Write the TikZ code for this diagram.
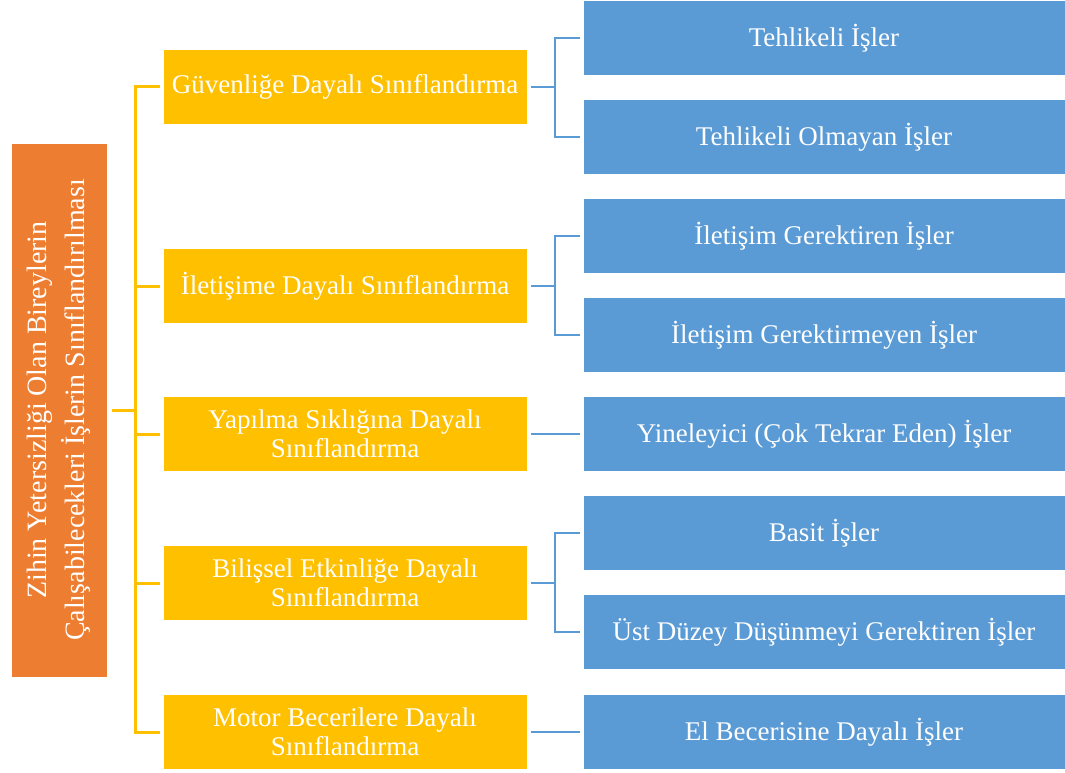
\documentclass[tikz,border=0pt]{standalone}
\usepackage{fontspec}
\setmainfont{Liberation Serif}
\usetikzlibrary{positioning}

\definecolor{rootorange}{HTML}{ED7D31}
\definecolor{catyellow}{HTML}{FFC000}
\definecolor{jobblue}{HTML}{5B9BD5}

\begin{document}
\begin{tikzpicture}[x=1pt,y=-1pt,
    rootbox/.style={fill=rootorange, draw=white, thin, text=white, rotate=90,
        minimum width=534pt, minimum height=96pt, inner sep=0pt, align=center,
        font=\fontsize{28}{38}\selectfont},
    catbox/.style={fill=catyellow, draw=white, thin, text=white,
        minimum width=364pt, minimum height=75pt, inner sep=0pt, align=center,
        font=\fontsize{27}{29}\selectfont},
    jobbox/.style={fill=jobblue, draw=white, thin, text=white,
        minimum width=482pt, minimum height=75pt, inner sep=0pt, align=center,
        font=\fontsize{27}{29}\selectfont},
    orangeline/.style={catyellow, line width=3pt},
    blueline/.style={jobblue, line width=2.5pt}]

    % Fix the frame
    \useasboundingbox (0,0) rectangle (1065,773);

    % Root box
    \node[rootbox] (root) at (59,410)
        {Zihin Yetersizliği Olan Bireylerin\\Çalışabilecekleri İşlerin Sınıflandırılması};

    % Classification boxes
    \node[catbox] (cat1) at (345,87)  {Güvenliğe Dayalı Sınıflandırma};
    \node[catbox] (cat2) at (345,286) {İletişime Dayalı Sınıflandırma};
    \node[catbox] (cat3) at (345,434) {Yapılma Sıklığına Dayalı\\Sınıflandırma};
    \node[catbox] (cat4) at (345,583) {Bilişsel Etkinliğe Dayalı\\Sınıflandırma};
    \node[catbox] (cat5) at (345,732) {Motor Becerilere Dayalı\\Sınıflandırma};

    % Job boxes
    \node[jobbox] (job1) at (824,38)  {Tehlikeli İşler};
    \node[jobbox] (job2) at (824,137) {Tehlikeli Olmayan İşler};
    \node[jobbox] (job3) at (824,236) {İletişim Gerektiren İşler};
    \node[jobbox] (job4) at (824,335) {İletişim Gerektirmeyen İşler};
    \node[jobbox] (job5) at (824,434) {Yineleyici (Çok Tekrar Eden) İşler};
    \node[jobbox] (job6) at (824,533) {Basit İşler};
    \node[jobbox] (job7) at (824,632) {Üst Düzey Düşünmeyi Gerektiren İşler};
    \node[jobbox] (job8) at (824,732) {El Becerisine Dayalı İşler};

    % Orange tree
    \coordinate (trunk) at (135,410);
    \draw[orangeline, shorten <=5pt] (root.south) -- (trunk);
    \foreach \i in {1,...,5} {
        \draw[orangeline, shorten >=3pt] (trunk) |- (cat\i.west);
    }

    % Blue forks
    \foreach \c/\a/\b in {1/1/2, 2/3/4, 4/6/7} {
        \coordinate (fork\c) at ([xshift=28pt]cat\c.east);
        \draw[blueline, shorten <=4pt] (cat\c.east) -- (fork\c);
        \draw[blueline, shorten >=3pt] (fork\c) |- (job\a.west);
        \draw[blueline, shorten >=3pt] (fork\c) |- (job\b.west);
    }
    \draw[blueline, shorten <=4pt, shorten >=3pt] (cat3.east) -- (job5.west);
    \draw[blueline, shorten <=4pt, shorten >=3pt] (cat5.east) -- (job8.west);

\end{tikzpicture}
\end{document}
